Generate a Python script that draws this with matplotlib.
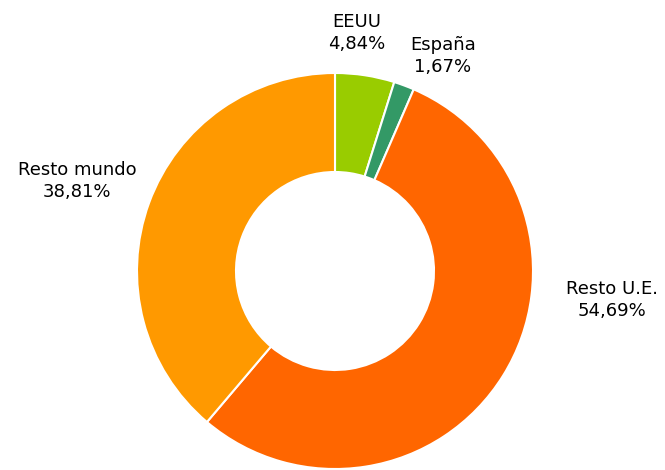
import matplotlib
matplotlib.use("Agg")
import matplotlib.pyplot as plt

categories = ["EEUU", "España", "Resto U.E.", "Resto mundo"]
values = [4.84, 1.67, 54.69, 38.81]
colors = ["#99CC00", "#339966", "#FF6600", "#FF9900"]

# label anchor positions in pixels (layout)
label_pos = [(357, 33), (443, 56), (612, 300), (77, 181)]

W, H = 665, 470
fig = plt.figure(figsize=(W / 100, H / 100), dpi=100)
ax = fig.add_axes([0, 0, 1, 1])
ax.set_xlim(0, W)
ax.set_ylim(0, H)
ax.set_aspect("equal")
ax.axis("off")

cx, cy, R = 335, H - 271, 198
ax.pie(values, colors=colors, startangle=90, counterclock=False,
       center=(cx, cy), radius=R,
       wedgeprops=dict(width=R * 0.5, edgecolor="white", linewidth=1.5))
ax.set_xlim(0, W)
ax.set_ylim(0, H)

for cat, v, (px, py) in zip(categories, values, label_pos):
    txt = f"{cat}\n" + f"{v:.2f}".replace(".", ",") + "%"
    ax.text(px, H - py, txt, ha="center", va="center", fontsize=13,
            family="DejaVu Sans", linespacing=1.3, color="black")

fig.savefig("out.png", dpi=100)
